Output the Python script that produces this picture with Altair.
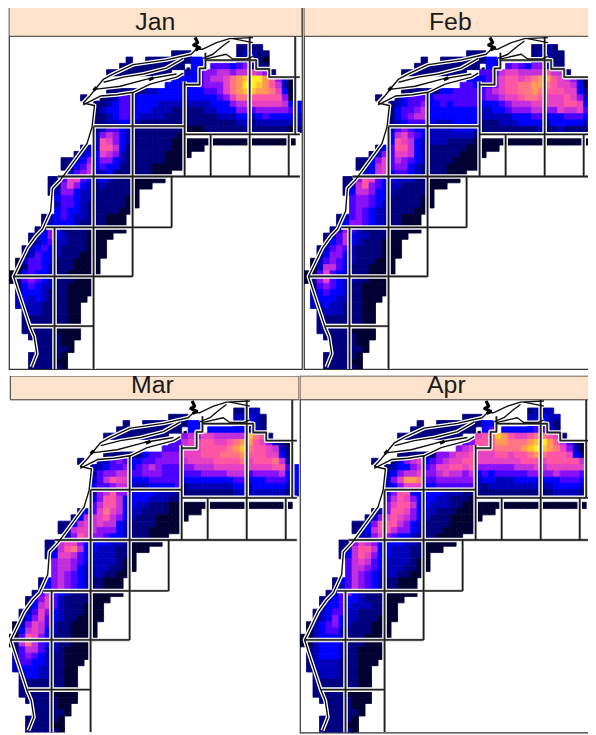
import altair as alt
import pandas as pd

MONTHS = ["Jan", "Feb", "Mar", "Apr"]
LEVELS = list("abcdefghijklm")
COLORS = ["#000033", "#00007f", "#0000bb", "#0000ff", "#4a00ff", "#8a10f5", "#c230dc",
          "#e642c3", "#ff55a5", "#ff7585", "#ff9a55", "#ffc530", "#ffee20"]

# (row, first column, density level per cell)
COMMON = [
    (1,25,"bbb"),(2,18,"b"),(2,21,"bbbb"),(2,25,"bbb"),(3,17,"bbbbbbbbbb"),(4,15,"bb"),(4,17,"bbbbbbbb"),
    (4,40,"b"),(7,15,"bbbbbb"),(8,11,"b"),
    (15,27,"aaaa"),(15,31,"aaaaaa"),(15,37,"aaaaaa"),(15,43,"a"),(16,27,"aaa"),(17,27,"a"),
    (21,19,"aaaaa"),(22,19,"aaa"),(23,19,"a"),(24,19,"a"),(25,19,"a"),
    (29,13,"aaaaa"),(30,13,"aaa"),(31,13,"aa"),(32,13,"aa"),(33,13,"aa"),(34,13,"a"),(35,13,"a"),(36,13,"a"),
    (40,7,"bbaaa"),(41,7,"bbaa"),(42,7,"bbaa"),(43,7,"bbaa"),(44,7,"bbaa"),(45,7,"aaaa"),(46,7,"baaa"),
    (47,7,"baa"),(48,7,"bba"),(49,7,"ba"),(50,7,"aa"),(51,7,"ba"),
    (43,2,"bbbbb"),(44,2,"bbbbb"),(45,2,"bbbbb"),(46,3,"bbbb"),(47,4,"bbb"),(48,4,"bbb"),
    (49,3,"bbbb"),(50,3,"bbbb"),(51,3,"bbbb"),
]
JAN = [
    (0,35,"bb"),(0,37,"bb"),(1,35,"bc"),(1,37,"cbb"),(2,28,"dd"),(2,35,"cc"),(2,37,"cba"),
    (3,28,"dd"),(3,31,"eeedef"),(3,37,"cbb"),(4,27,"cdeffggfgg"),(4,37,"hgf"),
    (5,25,"dd"),(5,27,"ddefgghjkl"),(5,37,"mmkifca"),(6,24,"ddd"),(6,27,"ddefffhjkm"),(6,37,"mlkigca"),
    (7,21,"ccdddd"),(7,27,"dddeefhjkl"),(7,37,"lkkjhda"),
    (8,14,"bbcee"),(8,19,"dddddddd"),(8,27,"dddddefhjj"),(8,37,"iiiiifa"),
    (9,13,"bbcdee"),(9,19,"ddddcccc"),(9,27,"ccccdddfgg"),(9,37,"hhhhhgd"),(9,44,"d"),
    (10,13,"bcddee"),(10,19,"dddcccbb"),(10,27,"bbbccdddff"),(10,37,"efffffe"),(10,44,"d"),
    (11,13,"bbcdee"),(11,19,"dccccbbb"),(11,27,"bbbbbcccdd"),(11,37,"cdedddd"),(11,44,"c"),
    (12,13,"bbccdd"),(12,19,"cbbbbbbb"),(12,27,"bbbbbbbbcc"),(12,37,"bcccccc"),(12,44,"c"),
    (13,13,"bceedc"),(13,19,"bbbbbbbb"),(13,27,"aaabbbbbbb"),(13,37,"bbbbbba"),(13,44,"b"),
    (14,13,"cfgfdc"),(14,19,"bbbbbbba"),(15,13,"cihfdc"),(15,19,"bbbbbbaa"),
    (16,11,"bc"),(16,13,"ciigdb"),(16,19,"bbbbbbaa"),(17,10,"bcd"),(17,13,"dhgfcb"),(17,19,"bbbbbaaa"),
    (18,8,"bbcdf"),(18,13,"dffdcb"),(18,19,"bbbbbaaa"),(19,8,"bbdeg"),(19,13,"deddbb"),(19,19,"bbbaaaaa"),
    (20,9,"cefg"),(20,13,"ccdbbb"),(20,19,"bbbaaa"),
    (21,6,"bbehhed"),(21,13,"cdcbbb"),(22,6,"bbfhfdc"),(22,13,"bcbbbb"),(23,6,"bcffdcc"),(23,13,"bbbbbb"),
    (24,7,"deedcc"),(24,13,"bbbbba"),(25,7,"ceedcb"),(25,13,"bbbbba"),(26,7,"deddcb"),(26,13,"bbbbaa"),
    (27,5,"bcdedccb"),(27,13,"bbaaa"),(28,5,"bcdddcbb"),(28,13,"bbaaa"),
    (29,4,"bcf"),(29,7,"dbbbba"),(30,3,"bcdf"),(30,7,"dcbbba"),(31,3,"bcde"),(31,7,"ccbbba"),
    (32,2,"bcded"),(32,7,"cbbbba"),(33,2,"bcedd"),(33,7,"cbbbaa"),(34,1,"aceedd"),(34,7,"bbbaaa"),
    (35,1,"abeedc"),(35,7,"bbbaaa"),(36,0,"aadeddc"),(36,7,"bbaaaa"),(37,0,"abefedc"),(37,7,"bbbaaa"),
    (38,1,"bdedcc"),(38,7,"bbaaaa"),(39,1,"bdddcb"),(39,7,"bbaaaa"),(40,1,"cdcdcb"),(41,1,"ccccbb"),(42,2,"bccbb"),
]
FEB = [
    (0,35,"bb"),(0,37,"cb"),(1,35,"bc"),(1,37,"cbb"),(2,28,"dd"),(2,35,"cc"),(2,37,"cbb"),
    (3,28,"dd"),(3,31,"efedff"),(3,37,"dbb"),(4,27,"eeeghhgggg"),(4,37,"igg"),
    (5,25,"dd"),(5,27,"defhiihijk"),(5,37,"kihgfca"),(6,24,"eed"),(6,27,"defhiijjkk"),(6,37,"jihhgda"),
    (7,21,"ddeeee"),(7,27,"efghiijjkj"),(7,37,"iiihhdb"),
    (8,14,"bdeee"),(8,19,"deeeeeee"),(8,27,"effghhijji"),(8,37,"hhhihfc"),
    (9,13,"bcdeef"),(9,19,"ddedeeee"),(9,27,"dddefggghh"),(9,37,"hhhiihd"),(9,44,"d"),
    (10,13,"bdeefg"),(10,19,"dddddddd"),(10,27,"ccddefffgg"),(10,37,"ffhgghe"),(10,44,"d"),
    (11,13,"bdefgg"),(11,19,"dddddddd"),(11,27,"cccccdddee"),(11,37,"dddeeed"),(11,44,"c"),
    (12,13,"bcdeee"),(12,19,"dcccdddd"),(12,27,"bbbcccdddd"),(12,37,"cdddddc"),(12,44,"d"),
    (13,13,"cefedd"),(13,19,"ccccdddc"),(13,27,"bbbbbbbbbc"),(13,37,"bbcbbbb"),(13,44,"b"),
    (14,13,"dghfed"),(14,19,"cccccccb"),(15,13,"dihgdc"),(15,19,"cccbbbba"),
    (16,11,"bd"),(16,13,"eiigdc"),(16,19,"bbbbbbaa"),(17,10,"bcf"),(17,13,"ehhgdc"),(17,19,"bbbbbaaa"),
    (18,8,"bbdfh"),(18,13,"egfedc"),(18,19,"bbbbaaaa"),(19,8,"bbdgh"),(19,13,"effdcb"),(19,19,"bbbaaaaa"),
    (20,9,"cdgh"),(20,13,"deedcb"),(20,19,"bbbaaa"),
    (21,6,"bbfihed"),(21,13,"dcccbb"),(22,6,"bcgifed"),(22,13,"ccbbbb"),(23,6,"bdggfdd"),(23,13,"cbbbbb"),
    (24,7,"effedd"),(24,13,"bbbbba"),(25,7,"effedc"),(25,13,"bbbbba"),(26,7,"efedcc"),(26,13,"bbbbaa"),
    (27,5,"bcefedcc"),(27,13,"bbaaa"),(28,5,"bdffedcc"),(28,13,"bbaaa"),
    (29,4,"bcf"),(29,7,"ecbbbb"),(30,3,"bceg"),(30,7,"dccbbb"),(31,3,"bdeg"),(31,7,"dcbbba"),
    (32,2,"bcefe"),(32,7,"cbbbba"),(33,2,"bdffd"),(33,7,"cbbbba"),(34,1,"acefed"),(34,7,"cbbbaa"),
    (35,1,"acgged"),(35,7,"bbbaaa"),(36,0,"aaehedc"),(36,7,"bbbaaa"),(37,0,"abfhedc"),(37,7,"cbbaaa"),
    (38,1,"befedc"),(38,7,"bbaaaa"),(39,1,"bdeddc"),(39,7,"bbaaaa"),(40,1,"cdddcc"),(41,1,"ccdccb"),(42,2,"bcccb"),
]
MAR = [
    (0,35,"bb"),(0,37,"cc"),(1,35,"cc"),(1,37,"dcb"),(2,28,"dd"),(2,35,"cc"),(2,37,"dcb"),
    (3,28,"dd"),(3,31,"dddddd"),(3,37,"dcb"),(4,27,"fgfhhggggg"),(4,37,"lji"),
    (5,25,"ee"),(5,27,"ghhiihhijk"),(5,37,"kihfcba"),(6,24,"eee"),(6,27,"hhhiiiijkl"),(6,37,"jiihgcb"),
    (7,21,"deefff"),(7,27,"hhhiiijjjk"),(7,37,"iiihhdb"),
    (8,14,"ccefe"),(8,19,"ddeeffff"),(8,27,"ghhhhiiiij"),(8,37,"hiiijgc"),
    (9,13,"ccdeef"),(9,19,"defgfeee"),(9,27,"ffggghhhhh"),(9,37,"hhhhiie"),(9,44,"d"),
    (10,13,"ceffgg"),(10,19,"eefffeee"),(10,27,"eeeffffggg"),(10,37,"effffgd"),(10,44,"d"),
    (11,13,"cegihh"),(11,19,"dddeeeee"),(11,27,"ddddddddee"),(11,37,"dddeeed"),(11,44,"d"),
    (12,13,"deefgg"),(12,19,"cccdddde"),(12,27,"bcccccccdd"),(12,37,"cdddddc"),(12,44,"d"),
    (13,13,"cfgiff"),(13,19,"ddddcccb"),(13,27,"bbbbbbbbcc"),(13,37,"ccccccb"),(13,44,"c"),
    (14,13,"dfiigd"),(14,19,"dddcccbb"),(15,13,"egiigd"),(15,19,"dccbbbaa"),
    (16,11,"bd"),(16,13,"ehjhgd"),(16,19,"ccbbbbaa"),(17,10,"bdg"),(17,13,"ghigfd"),(17,19,"cbbbaaaa"),
    (18,8,"bbdgh"),(18,13,"ghggdc"),(18,19,"bbbbaaaa"),(19,8,"bcghh"),(19,13,"gfffdc"),(19,19,"bbbaaaaa"),
    (20,9,"cfih"),(20,13,"ffeddc"),(20,19,"bbbaaa"),
    (21,6,"bbghhfd"),(21,13,"dddccb"),(22,6,"bcgijgd"),(22,13,"dcccbb"),(23,6,"bdhhged"),(23,13,"ccccbb"),
    (24,7,"fggfed"),(24,13,"ccccba"),(25,7,"fggfdc"),(25,13,"cccbba"),(26,7,"fgfedc"),(26,13,"ccbbaa"),
    (27,5,"bdfgfedc"),(27,13,"bbaaa"),(28,5,"bdfgfedc"),(28,13,"bbaaa"),
    (29,4,"beg"),(29,7,"edcbbb"),(30,3,"bdfh"),(30,7,"ecbbbb"),(31,3,"bdgh"),(31,7,"ecbbba"),
    (32,2,"bcehf"),(32,7,"dcbbba"),(33,2,"bdfhe"),(33,7,"dcbbaa"),(34,1,"acfhge"),(34,7,"cbbaaa"),
    (35,1,"adghgd"),(35,7,"cbbaaa"),(36,0,"aaeihfd"),(36,7,"bbbaaa"),(37,0,"abgjged"),(37,7,"cbbaaa"),
    (38,1,"beggec"),(38,7,"cbaaaa"),(39,1,"cefedc"),(39,7,"bbaaaa"),(40,1,"ceeddc"),(41,1,"cdddcc"),(42,2,"cddcc"),
]
APR = [
    (0,35,"bc"),(0,37,"cc"),(1,35,"cc"),(1,37,"dcc"),(2,28,"dd"),(2,35,"cd"),(2,37,"dcb"),
    (3,28,"de"),(3,31,"ddddde"),(3,37,"ecb"),(4,27,"hiilkihhij"),(4,37,"jih"),
    (5,25,"ef"),(5,27,"iiikkjjjkl"),(5,37,"mkigeba"),(6,24,"fgh"),(6,27,"iiijjjjklm"),(6,37,"lkjhfca"),
    (7,21,"ffghhi"),(7,27,"hhhiihiijk"),(7,37,"jiiihdb"),
    (8,14,"bdfgh"),(8,19,"defghhii"),(8,27,"hhhhhhhiii"),(8,37,"hiiiiig"),
    (9,13,"bcddfg"),(9,19,"efhhiihi"),(9,27,"ffffffgggh"),(9,37,"ghhhhhh"),(9,44,"d"),
    (10,13,"cdfggh"),(10,19,"ffghggfg"),(10,27,"dedeeeeeff"),(10,37,"ffgfffe"),(10,44,"e"),
    (11,13,"cfhkkj"),(11,19,"eeffffff"),(11,27,"cddcccdddd"),(11,37,"dddeeed"),(11,44,"d"),
    (12,13,"cdfhhh"),(12,19,"ddeeeeee"),(12,27,"cbcccccccc"),(12,37,"ccddddc"),(12,44,"d"),
    (13,13,"dfiidd"),(13,19,"dddcccbb"),(13,27,"bbbbbbbbbb"),(13,37,"bbccccb"),(13,44,"c"),
    (14,13,"egihfd"),(14,19,"ddccbbba"),(15,13,"fhiigd"),(15,19,"dcccbbaa"),
    (16,11,"bc"),(16,13,"fiihfd"),(16,19,"ccbbbaaa"),(17,10,"bcf"),(17,13,"hihgfd"),(17,19,"cbbbaaaa"),
    (18,8,"bbdfi"),(18,13,"iigfdc"),(18,19,"bbbbaaaa"),(19,8,"bcdgi"),(19,13,"igffdc"),(19,19,"bbbaaaaa"),
    (20,9,"ccfh"),(20,13,"feddcb"),(20,19,"bbaaaa"),
    (21,6,"bbfhgfd"),(21,13,"dddccb"),(22,6,"bcgiigd"),(22,13,"dcccbb"),(23,6,"bdgihfd"),(23,13,"dcccbb"),
    (24,7,"eghged"),(24,13,"ccccba"),(25,7,"eggfed"),(25,13,"cccbba"),(26,7,"egfedc"),(26,13,"ccbbaa"),
    (27,5,"bdegfedc"),(27,13,"bbaaa"),(28,5,"bcegfedc"),(28,13,"bbaaa"),
    (29,4,"bce"),(29,7,"fdcbbb"),(30,3,"bcde"),(30,7,"ddcbbb"),(31,3,"bdde"),(31,7,"dcccbb"),
    (32,2,"bcdee"),(32,7,"ccbbbb"),(33,2,"bcdfd"),(33,7,"ccbbba"),(34,1,"acdefd"),(34,7,"cbbbaa"),
    (35,1,"acdeec"),(35,7,"bbbbaa"),(36,0,"aacdddc"),(36,7,"bbbaaa"),(37,0,"aacdddc"),(37,7,"bbbaaa"),
    (38,1,"bcdddc"),(38,7,"bbaaaa"),(39,1,"bcdddc"),(39,7,"bbaaaa"),(40,1,"bccccb"),(41,1,"bccccb"),(42,2,"bcccb"),
]
PANEL_CELLS = {"Jan": JAN, "Feb": FEB, "Mar": MAR, "Apr": APR}

# Shoreline and area boundaries, in grid units (column, row)
COAST = {
    "main": [(3.46,52.6),(4.27,50.5),(3.87,47.8),(3.26,46.3),(2.34,43.4),(1.32,40.2),(0.71,38.2),(2.85,33.6),
             (4.12,31.8),(5.14,30.7),(6.41,27.8),(6.67,24.2),(7.94,22.8),(9.21,21.0),(12.0,17.05),(12.77,14.4),
             (13.13,11.0),(11.4,10.6)],
    "north": [(11.4,10.6),(12.5,9.4),(13.5,8.1),(14.55,6.8),(16.3,5.85),(19.1,4.5),(24.2,3.75),(28.0,2.85),
              (28.8,2.05),(29.8,2.05),(31.9,1.0),(33.9,0.37),(37.5,0.2)],
    "lens": [(14.55,7.3),(17.6,6.5),(20.7,6.0),(24.2,5.05),(26.8,3.5)],
    "south": [(11.4,10.9),(14.05,9.5),(16.6,9.3),(19.1,8.9),(21.7,7.6),(25.75,6.5),(26.8,5.85)],
    "inner": [(13.5,8.4),(17.1,7.95),(21.2,6.8),(25.75,6.0)],
    "east1": [(29.8,3.5),(31.35,2.85),(32.9,1.5),(33.9,0.74)],
    "east2": [(30.3,3.6),(33.4,2.85),(34.4,3.6),(36.6,3.6),(37.5,3.2)],
    "east3": [(34.4,0.37),(37.5,1.0)],
}
BLOBS = {
    "a": [(28.6,0.2),(29.0,1.0),(28.4,1.4),(29.3,1.8),(28.7,2.2)],
    "b": [(13.5,8.1),(13.0,8.6)],
    "c": [(21.5,6.9),(22.2,6.6)],
    "d": [(27.5,4.95),(27.6,5.3)],
}
BOUNDS = {
    "v13": [(13,14.4),(13,52.9)], "v19": [(19,8.9),(19,38.2)], "v7": [(7,30.4),(7,52.9)], "v25": [(25,22.3),(25,30.4)],
    "v27": [(27,7.2),(27,22.3)], "v31": [(31,15.6),(31,22.3)], "v37": [(37,0),(37,22.3)], "v43": [(43,15.6),(43,22.3)],
    "v44": [(44,0),(44,15.6)], "h14": [(13,14.3),(27,14.3)], "h15": [(27,15.6),(44.7,15.6)], "h22": [(7.5,22.3),(44.7,22.3)],
    "h30": [(5.7,30.4),(25,30.4)], "h38": [(0.7,38.2),(19,38.2)], "h46": [(3.3,46.1),(13,46.1)],
    "stair": [(27,7.7),(29.3,7.7),(29.3,5.1),(30.2,5.1),(30.2,3.8),(38,3.8),(38,5.2),(40,5.2),(40,6.5),(44.7,6.5)],
    "stub": [(30.2,3.8),(30.2,2.6)],
}

PANEL_SPECS = {
    "Jan": dict(width=295, height=364, x=[0, 295/6.55], y=[-29/6.33, 335/6.33], left=0, stroke="#333333"),
    "Feb": dict(width=293, height=364, x=[0, 293/6.55], y=[-29/6.33, 335/6.33], left=0, stroke="#333333"),
    "Mar": dict(width=292, height=359, x=[3/6.55, 3/6.55 + 292/6.55], y=[-24/6.33, 335/6.33], left=0.66, stroke=None),
    "Apr": dict(width=296, height=359, x=[0, 296/6.55], y=[-24/6.33, 335/6.33], left=0, stroke="#333333"),
}


def cells_frame(month):
    rows = []
    for k, start, levels in COMMON + PANEL_CELLS[month]:
        for i, lev in enumerate(levels):
            rows.append(dict(col=start + i, col2=start + i + 1, row=k + 1.3, row2=k + 2.3, level=lev))
    return pd.DataFrame(rows)


def lines_frame(groups):
    rows = []
    for name, pts in groups.items():
        for i, (c, r) in enumerate(pts):
            rows.append(dict(col=c, row=r, part=name, order=i))
    return pd.DataFrame(rows)


def panel(month):
    s = PANEL_SPECS[month]
    xs = alt.Scale(domain=s["x"], nice=False, zero=False)
    ys = alt.Scale(domain=s["y"], nice=False, zero=False, reverse=True)
    X = alt.X("col:Q", scale=xs, axis=None)
    Y = alt.Y("row:Q", scale=ys, axis=None)
    color = alt.Scale(domain=LEVELS, range=COLORS)

    rects = alt.Chart(cells_frame(month)).mark_rect(clip=True, strokeWidth=0.8).encode(
        x=X, x2="col2:Q", y=Y, y2="row2:Q",
        color=alt.Color("level:N", scale=color, legend=None),
        stroke=alt.Stroke("level:N", scale=color, legend=None),
    )
    bounds = lines_frame(BOUNDS)
    coast = lines_frame(COAST)
    blobs = lines_frame(BLOBS)

    def line(df, col, w):
        return alt.Chart(df).mark_line(clip=True, color=col, strokeWidth=w, strokeJoin="round").encode(
            x=X, y=Y, detail="part:N", order="order:Q")

    header_row = [dict(col=max(s["left"], s["x"][0]), col2=s["x"][1], row=s["y"][0], row2=0.0, label=month, mid=22.5, tr=-2.3)]
    hdf = pd.DataFrame(header_row)
    header = alt.Chart(hdf).mark_rect(color="#fde3cc", stroke="#333333", strokeWidth=1, clip=True).encode(
        x=X, x2="col2:Q", y=Y, y2="row2:Q")
    label = alt.Chart(hdf).mark_text(font="Liberation Sans", fontSize=25, color="#1a1a1a", baseline="middle").encode(
        x=alt.X("mid:Q", scale=xs, axis=None), y=alt.Y("tr:Q", scale=ys, axis=None), text="label:N")

    view = alt.ViewConfig(stroke=s["stroke"], strokeWidth=1.2) if s["stroke"] else alt.ViewConfig(strokeWidth=0, stroke="transparent")
    return alt.layer(
        rects,
        line(bounds, "white", 4.6), line(coast, "white", 4.0),
        line(bounds, "#8a8a8a", 2.4), line(bounds, "#1c1c1c", 1.3),
        line(coast, "#111111", 1.4), line(blobs, "black", 3.2),
        header, label,
    ).properties(width=s["width"], height=s["height"], view=view)


top = alt.hconcat(panel("Jan"), panel("Feb"), spacing=0)
bottom = alt.hconcat(panel("Mar"), panel("Apr"), spacing=0)
chart = alt.vconcat(top, bottom, spacing=2).properties(padding={"left": 0, "top": -4, "right": -8, "bottom": 0})
chart.save("out.html", embed_options={"renderer": "svg", "actions": False})
